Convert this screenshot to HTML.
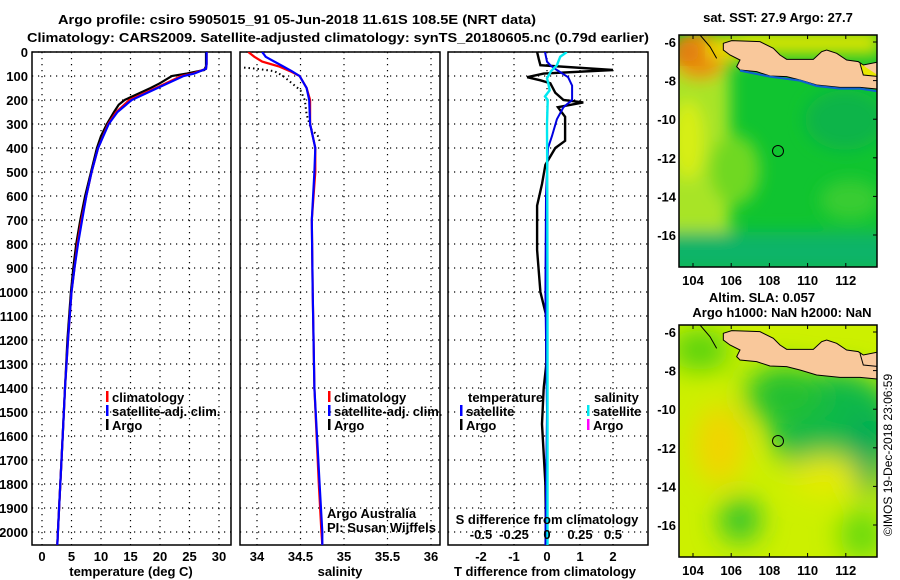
<!DOCTYPE html>
<html><head><meta charset="utf-8"><style>
html,body{margin:0;padding:0;background:#fff;}
svg{display:block;font-family:"Liberation Sans",Arial,sans-serif;}
.b{font-weight:bold;font-size:13px;}
</style></head><body>
<svg id="c" width="900" height="580" viewBox="0 0 900 580" xmlns="http://www.w3.org/2000/svg">
<defs>
<filter id="bl" x="-20%" y="-20%" width="140%" height="140%"><feGaussianBlur stdDeviation="8"/></filter>
<filter id="bl2" x="-20%" y="-20%" width="140%" height="140%"><feGaussianBlur stdDeviation="14"/></filter>
<clipPath id="m1c"><rect x="679" y="35" width="198" height="232"/></clipPath>
<clipPath id="m2c"><rect x="679" y="325" width="198" height="232"/></clipPath>
<clipPath id="p1c"><rect x="32" y="52" width="199" height="493"/></clipPath>
<clipPath id="p2c"><rect x="240" y="52" width="200" height="493"/></clipPath>
<clipPath id="p3c"><rect x="448" y="52" width="200" height="493"/></clipPath>
</defs>
<rect width="900" height="580" fill="#fff"/>
<text class="b" x="297" y="24" text-anchor="middle" textLength="478" lengthAdjust="spacingAndGlyphs">Argo profile: csiro 5905015_91 05-Jun-2018 11.61S 108.5E (NRT data)</text>
<text class="b" x="338" y="42" text-anchor="middle" textLength="622" lengthAdjust="spacingAndGlyphs">Climatology: CARS2009. Satellite-adjusted climatology: synTS_20180605.nc (0.79d earlier)</text>
<g id="plots"></g>

<!-- Map 1: SST -->
<g>
<g clip-path="url(#m1c)">
<rect x="679" y="35" width="198" height="232" fill="#10c430"/>
<g filter="url(#bl)">
<rect x="660" y="60" width="70" height="180" fill="#a8e428"/>
<ellipse cx="688" cy="140" rx="16" ry="40" fill="#d8ee18"/>
<ellipse cx="735" cy="170" rx="25" ry="35" fill="#70d820"/>
<ellipse cx="700" cy="55" rx="28" ry="25" fill="#e89010"/>
<ellipse cx="735" cy="48" rx="30" ry="14" fill="#e8d800"/>
<rect x="740" y="30" width="140" height="25" fill="#d8e400"/>
<rect x="660" y="232" width="230" height="40" fill="#10b468"/>
<ellipse cx="850" cy="200" rx="30" ry="20" fill="#38cc30"/>
<ellipse cx="845" cy="120" rx="40" ry="30" fill="#08b448"/>
</g>
<ellipse cx="688" cy="52" rx="12" ry="10" fill="#e07810" filter="url(#bl)"/>
<g transform="translate(660,0) scale(0.3333)">
<polygon points="190,130 215,122 300,125 340,145 360,165 380,178 460,178 485,155 500,150 530,160 560,180 595,185 610,195 660,185 660,268 600,262 540,262 470,255 420,240 380,230 330,228 290,215 240,210 230,200 240,180 210,165 190,150" fill="#f9c89b" stroke="#000" stroke-width="3"/>
<polyline points="240,212 330,230 420,242 470,258 540,266 600,266 660,275" fill="none" stroke="#1060d0" stroke-width="6"/>
<polyline points="120,105 150,140 170,175" fill="none" stroke="#000" stroke-width="3"/>
<polyline points="600,190 610,225 660,230" fill="#e8e800" stroke="#000" stroke-width="3"/>
</g>
<circle cx="778" cy="151" r="5.5" fill="none" stroke="#000" stroke-width="1"/>
</g>
<rect x="679" y="35" width="198" height="232" fill="none" stroke="#000" stroke-width="1.5"/>
</g>
<text class="b" x="778" y="22" text-anchor="middle">sat. SST: 27.9 Argo: 27.7</text>

<!-- Map 2: SLA -->
<g>
<g clip-path="url(#m2c)">
<rect x="679" y="325" width="198" height="232" fill="#ccf000"/>
<g filter="url(#bl2)">
<ellipse cx="835" cy="425" rx="65" ry="55" fill="#10b848"/>
<ellipse cx="785" cy="395" rx="40" ry="30" fill="#20c030"/>
<ellipse cx="868" cy="455" rx="18" ry="40" fill="#00a858"/>
<ellipse cx="720" cy="445" rx="25" ry="40" fill="#f2d400"/>
<ellipse cx="825" cy="475" rx="35" ry="20" fill="#e8ea00"/>
<ellipse cx="740" cy="520" rx="20" ry="22" fill="#28c030"/>
<ellipse cx="700" cy="350" rx="30" ry="20" fill="#50d010"/>
<ellipse cx="862" cy="535" rx="22" ry="25" fill="#60d810"/>
</g>
<g transform="translate(660,290) scale(0.3333)">
<polygon points="190,130 215,122 300,125 340,145 360,165 380,178 460,178 485,155 500,150 530,160 560,180 595,185 610,195 660,185 660,268 600,262 540,262 470,255 420,240 380,230 330,228 290,215 240,210 230,200 240,180 210,165 190,150" fill="#f9c89b" stroke="#000" stroke-width="3"/>
<polyline points="120,105 150,140 170,175" fill="none" stroke="#000" stroke-width="3"/>
<polyline points="600,190 610,225 660,230" fill="none" stroke="#000" stroke-width="3"/>
</g>
<circle cx="778" cy="441" r="5.5" fill="none" stroke="#000" stroke-width="1"/>
</g>
<rect x="679" y="325" width="198" height="232" fill="none" stroke="#000" stroke-width="1.5"/>
</g>
<text class="b" x="762" y="302" text-anchor="middle">Altim. SLA: 0.057</text>
<text class="b" x="782" y="317" text-anchor="middle">Argo h1000: NaN h2000: NaN</text>
<text x="892" y="455" font-size="12" text-anchor="middle" transform="rotate(-90 892 455)">©IMOS 19-Dec-2018 23:06:59</text>
<g id="mapaxes"></g>
</svg>
<script>
// ---- data ----
var depthTicks = [0,100,200,300,400,500,600,700,800,900,1000,1100,1200,1300,1400,1500,1600,1700,1800,1900,2000];
var tempTicks = [0,5,10,15,20,25,30];
var salTicks = [34,34.5,35,35.5,36];
var tdiffTicks = [-2,-1,0,1,2];
var sdiffTicks = [-0.5,-0.25,0,0.25,0.5];
var sdiffLabels = ["-0.5","-0.25","0","0.25","0.5"];

var climDepth = [0,50,70,90,100,150,200,250,300,400,500,600,700,800,900,1000,1200,1400,1600,1800,2000,2054];
var climTemp  = [27.9,27.9,27.8,25.5,23.6,19.3,14.8,12.6,11.2,9.5,8.4,7.5,6.7,6.0,5.5,5.0,4.4,3.9,3.5,3.1,2.7,2.6];
var satTemp   = [27.9,27.9,27.8,25.8,24.0,19.6,15.2,12.8,11.3,9.5,8.4,7.5,6.8,6.1,5.5,5.0,4.4,3.9,3.5,3.1,2.7,2.6];
var argoTDepth = [0,60,75,90,100,130,150,200,220,250,300,350,400,500,600,700,800,900,1000,1200,1400,1600,1800,2000,2054];
var argoTemp   = [27.8,27.8,27.5,24.5,22.0,20.0,18.4,14.0,13.0,12.2,11.0,10.0,9.3,8.3,7.3,6.5,5.8,5.3,4.9,4.3,3.9,3.5,3.1,2.7,2.6];

var climSDepth = [0,20,40,60,80,100,150,200,300,350,400,500,700,1000,1400,1800,2000,2054];
var climSal    = [33.9,33.97,34.06,34.25,34.38,34.49,34.57,34.61,34.61,34.64,34.67,34.67,34.63,34.64,34.66,34.71,34.74,34.75];
var satSal     = [34.06,34.1,34.2,34.3,34.4,34.49,34.57,34.6,34.61,34.64,34.67,34.66,34.63,34.64,34.66,34.72,34.75,34.75];
var argoSDepth = [65,70,80,100,130,160,200,260,320,350,370];
var argoSal    = [33.85,34.0,34.2,34.3,34.4,34.5,34.55,34.57,34.62,34.7,34.72];

var dTDepth = [0,30,55,75,90,105,118,130,170,200,210,230,270,370,400,470,550,640,825,1000,1100,1300,1400,1550,1800,2000,2054];
var argoTdiff = [-0.3,-0.25,-0.2,2.0,-0.1,-0.6,-0.2,0.1,0.25,0.5,1.1,0.33,0.55,0.55,0.25,-0.05,-0.15,-0.3,-0.3,-0.2,-0.02,-0.02,-0.1,-0.15,-0.05,-0.03,-0.03];
var satTDepth = [0,40,55,75,105,140,200,230,280,350,400,600,1000,1500,2054];
var satTdiff  = [-0.06,0.0,0.1,0.3,0.64,0.76,0.76,0.5,0.3,0.15,0.03,-0.03,-0.05,0.0,-0.05];
var satSDepth = [0,20,55,80,110,130,160,185,200,300,600,1000,2054];
var satSdiff  = [0.15,0.1,0.075,0.03,0.0,0.01,0.02,-0.015,0.005,0.0,0.002,0.004,0.004];

var lonTicks = [104,106,108,110,112];
var latTicks = [-6,-8,-10,-12,-14,-16];

// ---- axis functions ----
function yD(d){return 52+0.24*d;}
function xT(t){return 42+5.9*t;}
function xS(s){return 257+87*(s-34);}
function xDT(t){return 547+33*t;}
function xDS(s){return 547+132*s;}
function lonX(l){return 693+19.1*(l-104);}
function latY(l,top){return top+7+19.3*(-6-l);}

var NS='http://www.w3.org/2000/svg';
var root=document.getElementById('plots');
function mk(tag,attrs,parent){var e=document.createElementNS(NS,tag);for(var k in attrs)e.setAttribute(k,attrs[k]);(parent||root).appendChild(e);return e;}
function txt(s,x,y,anchor,cls,parent){var t=mk('text',{x:x,y:y,'text-anchor':anchor||'middle','class':cls||'b'},parent);t.textContent=s;return t;}

function panel(x0,w,xticks,xfn,name){
  var g=mk('g',{});
  
  
  for(var i=0;i<depthTicks.length;i++){
    var y=yD(depthTicks[i]);
    mk('line',{x1:x0,x2:x0+w,y1:y,y2:y,stroke:'#000','stroke-width':1.2,'stroke-dasharray':'1.2,4.8'},g);
  }
  for(var j=0;j<xticks.length;j++){
    var x=xfn(xticks[j]);
    mk('line',{x1:x,x2:x,y1:52,y2:545,stroke:'#000','stroke-width':1.2,'stroke-dasharray':'1.2,4.8'},g);
  }
  mk('rect',{x:x0,y:52,width:w,height:493,fill:'none',stroke:'#000','stroke-width':1.5},g);
  return g;
}
function line(g,xs,ds,xfn,color,clip,width,dash){
  var pts=[];
  for(var i=0;i<xs.length;i++)pts.push(xfn(xs[i]).toFixed(1)+','+yD(ds[i]).toFixed(1));
  var a={points:pts.join(' '),fill:'none',stroke:color,'stroke-width':width||2.2,'clip-path':'url(#'+clip+')'};
  if(dash)a['stroke-dasharray']=dash;
  return mk('polyline',a,g);
}

// Panel 1
var g1=panel(32,199,tempTicks,xT,'temperature-panel');
for(var i=0;i<depthTicks.length;i++){var t=txt(String(depthTicks[i]),28,yD(depthTicks[i])+5,'end','b',g1);

}
for(var i=0;i<tempTicks.length;i++){var t=txt(String(tempTicks[i]),xT(tempTicks[i]),561,'middle','b',g1);

}
var l;
l=line(g1,argoTemp,argoTDepth,xT,'#000','p1c');


l=line(g1,climTemp,climDepth,xT,'#f00','p1c');


l=line(g1,satTemp,climDepth,xT,'#00f','p1c');


var xl=txt('temperature (deg C)',131,576,'middle','b',g1);



// Panel 2
var g2=panel(240,200,salTicks,xS,'salinity-panel');
for(var i=0;i<salTicks.length;i++){var t=txt(String(salTicks[i]),xS(salTicks[i]),561,'middle','b',g2);

}
l=line(g2,argoSal,argoSDepth,xS,'#000','p2c',2,'1.5,3');


l=line(g2,climSal,climSDepth,xS,'#f00','p2c');


l=line(g2,satSal,climSDepth,xS,'#00f','p2c');


xl=txt('salinity',340,576,'middle','b',g2);


var cr=txt('Argo Australia',327,518,'start','',g2);cr.setAttribute('font-size','12');


cr=txt('PI: Susan Wijffels',327,532,'start','',g2);cr.setAttribute('font-size','12');



// Panel 3
var g3=panel(448,200,tdiffTicks,xDT,'difference-panel');
for(var i=0;i<tdiffTicks.length;i++){var t=txt(String(tdiffTicks[i]),xDT(tdiffTicks[i]),561,'middle','b',g3);

}
l=line(g3,argoTdiff,dTDepth,xDT,'#000','p3c',2.4);


l=line(g3,satTdiff,satTDepth,xDT,'#0000e0','p3c',2);


l=line(g3,satSdiff,satSDepth,xDS,'#00e8f0','p3c',2.4);


var st=txt('S difference from climatology',547,524,'middle','b',g3);


for(var i=0;i<sdiffTicks.length;i++){var t=txt(sdiffLabels[i],xDS(sdiffTicks[i]),539,'middle','b',g3);

}
xl=txt('T difference from climatology',545,576,'middle','b',g3);



// Legends
function legendEntry(g,x,y,color,label){
  var e=mk('g',{},g);
  
  
  mk('rect',{x:x,y:y-11,width:2.5,height:11,fill:color},e);
  txt(label,x+6,y,'start','b',e);
}
legendEntry(g1,106,402,'#f00','climatology');
legendEntry(g1,106,416,'#00f','satellite-adj. clim.');
legendEntry(g1,106,430,'#000','Argo');
legendEntry(g2,328,402,'#f00','climatology');
legendEntry(g2,328,416,'#00f','satellite-adj. clim.');
legendEntry(g2,328,430,'#000','Argo');
var lt=txt('temperature',468,402,'start','b',g3);


legendEntry(g3,460,416,'#00f','satellite');
legendEntry(g3,460,430,'#000','Argo');
lt=txt('salinity',594,402,'start','b',g3);


legendEntry(g3,587,416,'#00e8f0','satellite');
legendEntry(g3,587,430,'#f0f','Argo');

// Map axes
var ma=document.getElementById('mapaxes');
[35,325].forEach(function(top){
  for(var i=0;i<lonTicks.length;i++){
    var x=lonX(lonTicks[i]);
    mk('line',{x1:x,x2:x,y1:top,y2:top+4,stroke:'#000'},ma);
    mk('line',{x1:x,x2:x,y1:top+232,y2:top+228,stroke:'#000'},ma);
    var t=txt(String(lonTicks[i]),x,top+250,'middle','b',ma);
    
    
  }
  for(var j=0;j<latTicks.length;j++){
    var y=latY(latTicks[j],top);
    mk('line',{x1:877,x2:873,y1:y,y2:y,stroke:'#000'},ma);
    var t=txt(String(latTicks[j]),676,y+5,'end','b',ma);
    
    
  }
});
</script>
</body></html>
